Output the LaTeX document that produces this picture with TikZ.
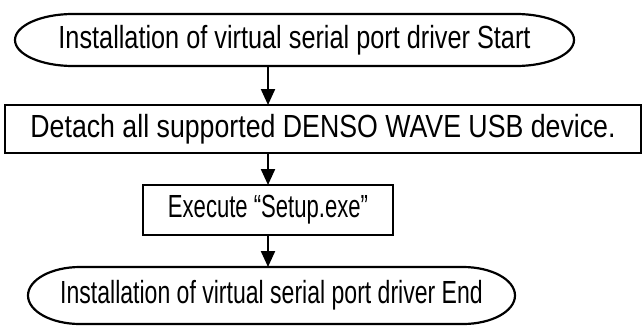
\documentclass[tikz,border=0pt]{standalone}
\usepackage{fontspec}
\setmainfont{Liberation Sans}
\usetikzlibrary{arrows.meta}

\newcommand{\txtscale}[2]{\scalebox{#1}[1]{#2}}
% outline of a start/end terminal: node name, end x radius, half height
\newcommand{\termline}[3]{%
\draw[line width=2.2pt] ([xshift=#2]#1.north west) -- ([xshift=-#2]#1.north east)
arc[start angle=90,end angle=-90,x radius=#2,y radius=#3]
-- ([xshift=#2]#1.south west)
arc[start angle=270,end angle=90,x radius=#2,y radius=#3] -- cycle;}

\begin{document}
\begin{tikzpicture}[x=1pt,y=1pt,
every node/.style={font=\fontsize{32}{38}\selectfont,inner sep=0pt,outer sep=0pt},
procbox/.style={draw,rectangle,line width=2.2pt},
term/.style={rectangle},
flow/.style={line width=2.2pt,-{Triangle[length=16pt,width=14pt]}}]
\useasboundingbox (0,0) rectangle (644,325);

\node[term,minimum width=559pt,minimum height=52pt] (start) at (294.5,285)
{\txtscale{0.79}{Installation of virtual serial port driver Start}};
\termline{start}{58pt}{26pt}

\node[procbox,minimum width=636pt,minimum height=48pt] (detach) at (323,196)
{\txtscale{0.835}{Detach all supported DENSO WAVE USB device.}};

\node[procbox,minimum width=250pt,minimum height=50pt] (setup) at (268,115)
{\txtscale{0.69}{Execute “Setup.exe”}};

\node[term,minimum width=487pt,minimum height=57pt] (finish) at (271.5,29.5)
{\txtscale{0.72}{Installation of virtual serial port driver End}};
\termline{finish}{52pt}{28.5pt}

\draw[flow] (start.south -| setup.north) -- (detach.north -| setup.north);
\draw[flow] (detach.south -| setup.north) -- (setup.north);
\draw[flow] (setup.south) -- (finish.north -| setup.south);
\end{tikzpicture}
\end{document}
